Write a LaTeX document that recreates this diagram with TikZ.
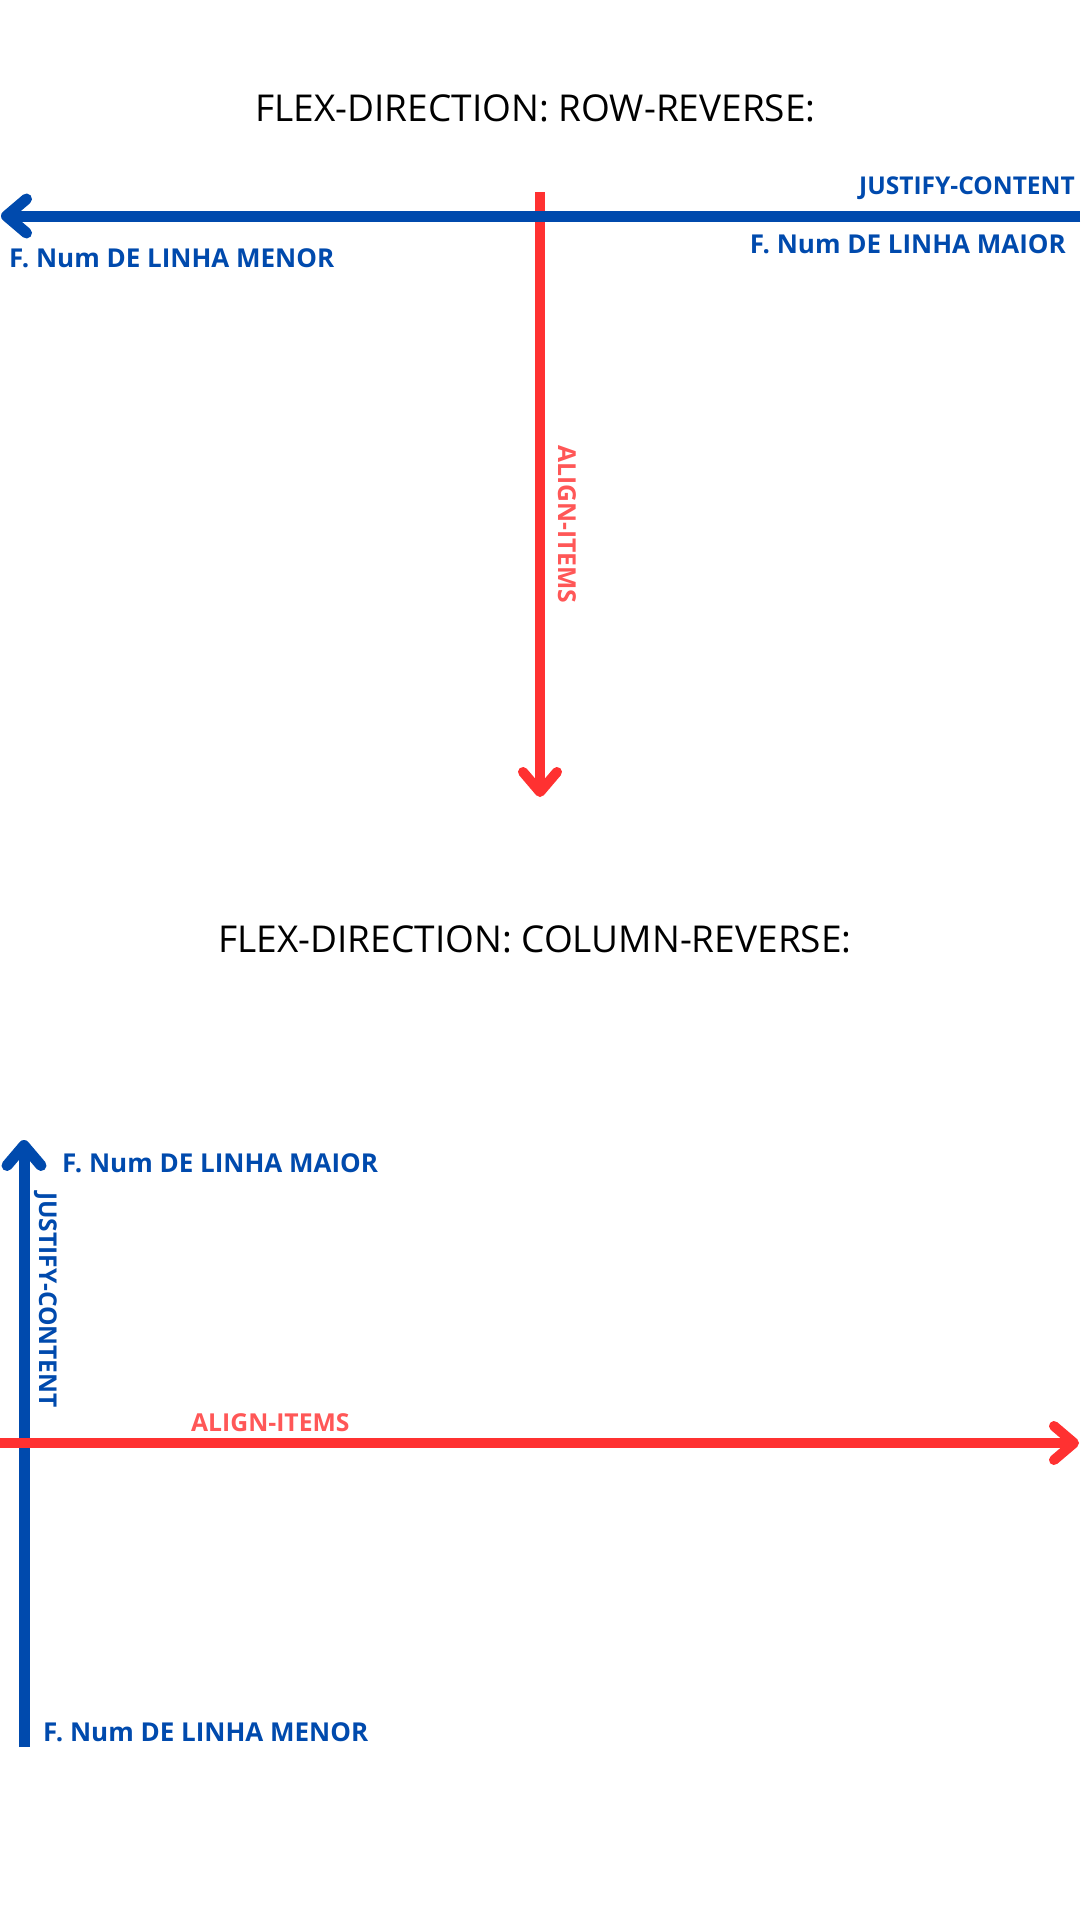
\documentclass[tikz,border=0pt]{standalone}
\usepackage{fontspec}
\setmainfont{Open Sans}
\usetikzlibrary{arrows.meta}
\definecolor{fblue}{HTML}{004AAD}
\definecolor{fred}{HTML}{FF3131}
\definecolor{fredtxt}{HTML}{FF5757}
\begin{document}
\begin{tikzpicture}[x=1pt,y=-1pt,
  titletxt/.style={font=\fontsize{37}{44}\selectfont, text=black, inner sep=0pt, anchor=base},
  bluelbl/.style={font=\fontsize{26}{31}\selectfont\bfseries, text=fblue, inner sep=0pt},
  bluecap/.style={font=\fontsize{24.5}{30}\selectfont\bfseries, text=fblue, inner sep=0pt},
  redlbl/.style={font=\fontsize{24.7}{30}\selectfont\bfseries, text=fredtxt, inner sep=0pt},
  barb/.style={-{Straight Barb[length=20pt,width=34pt,round]}},
  bluearrow/.style={draw=fblue, line width=11pt, barb},
  redarrow/.style={draw=fred, line width=10pt, barb}]
\useasboundingbox (0,0) rectangle (1080,1920);
\fill[white] (0,0) rectangle (1080,1920);

% ---- row-reverse ----
\node[titletxt] (t1) at (535.5,121) {FLEX-DIRECTION: ROW-REVERSE:};
\coordinate (h1s) at (1080,216);
\coordinate (h1e) at (1,216);
\coordinate (v1s) at (540,192);
\coordinate (v1e) at (540,797);
\draw[redarrow] (v1s) -- (v1e);
\draw[bluearrow] (h1s) -- (h1e);
\node[bluecap, anchor=base east] (jc1) at (1075,194) {JUSTIFY-CONTENT};
\node[bluelbl, anchor=base east] (maior1) at (1066,253) {F. Num DE LINHA MAIOR};
\node[bluelbl, anchor=base west] (menor1) at (9,267) {F. Num DE LINHA MENOR};
\node[redlbl, rotate=-90, anchor=base west] (ai1) at (558,445) {ALIGN-ITEMS};

% ---- column-reverse ----
\node[titletxt] (t2) at (535,952) {FLEX-DIRECTION: COLUMN-REVERSE:};
\coordinate (v2s) at (24,1747);
\coordinate (v2e) at (24,1140);
\coordinate (h2s) at (0,1443);
\coordinate (h2e) at (1079,1443);
\draw[bluearrow] (v2s) -- (v2e);
\draw[redarrow] (h2s) -- (h2e);
\node[bluelbl, anchor=base west] (maior2) at (62,1172) {F. Num DE LINHA MAIOR};
\node[bluecap, rotate=-90, anchor=base west] (jc2) at (39,1192) {JUSTIFY-CONTENT};
\node[redlbl, anchor=base west] (ai2) at (191,1431) {ALIGN-ITEMS};
\node[bluelbl, anchor=base west] (menor2) at (43,1741) {F. Num DE LINHA MENOR};
\end{tikzpicture}
\end{document}
